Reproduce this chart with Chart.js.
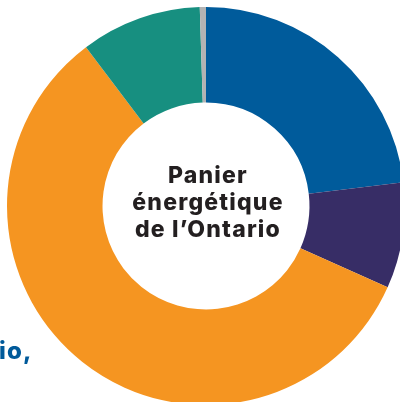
<!DOCTYPE html>
<html>
<head>
<meta charset="utf-8">
<script src="https://cdn.jsdelivr.net/npm/chart.js@4/dist/chart.umd.min.js"></script>
<style>
  html, body { margin:0; padding:0; width:400px; height:402px; overflow:hidden; background:#fff; }
  #wrap { position:absolute; left:0; top:0; width:412px; height:412px; }
  #frag { position:absolute; left:-1px; top:336px; font-family:Inter, "DejaVu Sans", sans-serif; font-weight:800; font-size:24px; color:#005a9a; letter-spacing:1.2px; }
</style>
</head>
<body>
<div id="wrap"><canvas id="c" width="412" height="412"></canvas></div>
<div id="frag">io,</div>
<script>
const categories = ["Bleu", "Violet", "Orange", "Sarcelle", "Gris"];
const values = [23.1, 8.6, 58.0, 9.8, 0.5];
const colors = ["#005b9b", "#372d66", "#f59521", "#178f80", "#b3b3b3"];
const centerLines = ["Panier", "énergétique", "de l’Ontario"];

const centerText = {
  id: "centerText",
  afterDraw(chart) {
    const ctx = chart.ctx;
    const meta = chart.getDatasetMeta(0).data[0];
    const cx = meta.x, cy = meta.y;
    ctx.save();
    ctx.fillStyle = "#231f20";
    ctx.font = "800 23px Inter, 'DejaVu Sans', sans-serif";
    ctx.letterSpacing = "1.2px";
    ctx.textAlign = "center";
    ctx.textBaseline = "alphabetic";
    const lh = 27;
    centerLines.forEach((t, i) => {
      ctx.fillText(t, cx + 2, cy - 23 + i * lh);
    });
    ctx.restore();
  }
};

new Chart(document.getElementById("c"), {
  type: "doughnut",
  data: {
    labels: categories,
    datasets: [{
      data: values,
      backgroundColor: colors,
      borderWidth: 0,
      hoverOffset: 0
    }]
  },
  options: {
    responsive: false,
    animation: false,
    cutout: "52%",
    layout: { padding: 7 },
    plugins: { legend: { display: false }, tooltip: { enabled: false } }
  },
  plugins: [centerText]
});
</script>
</body>
</html>
